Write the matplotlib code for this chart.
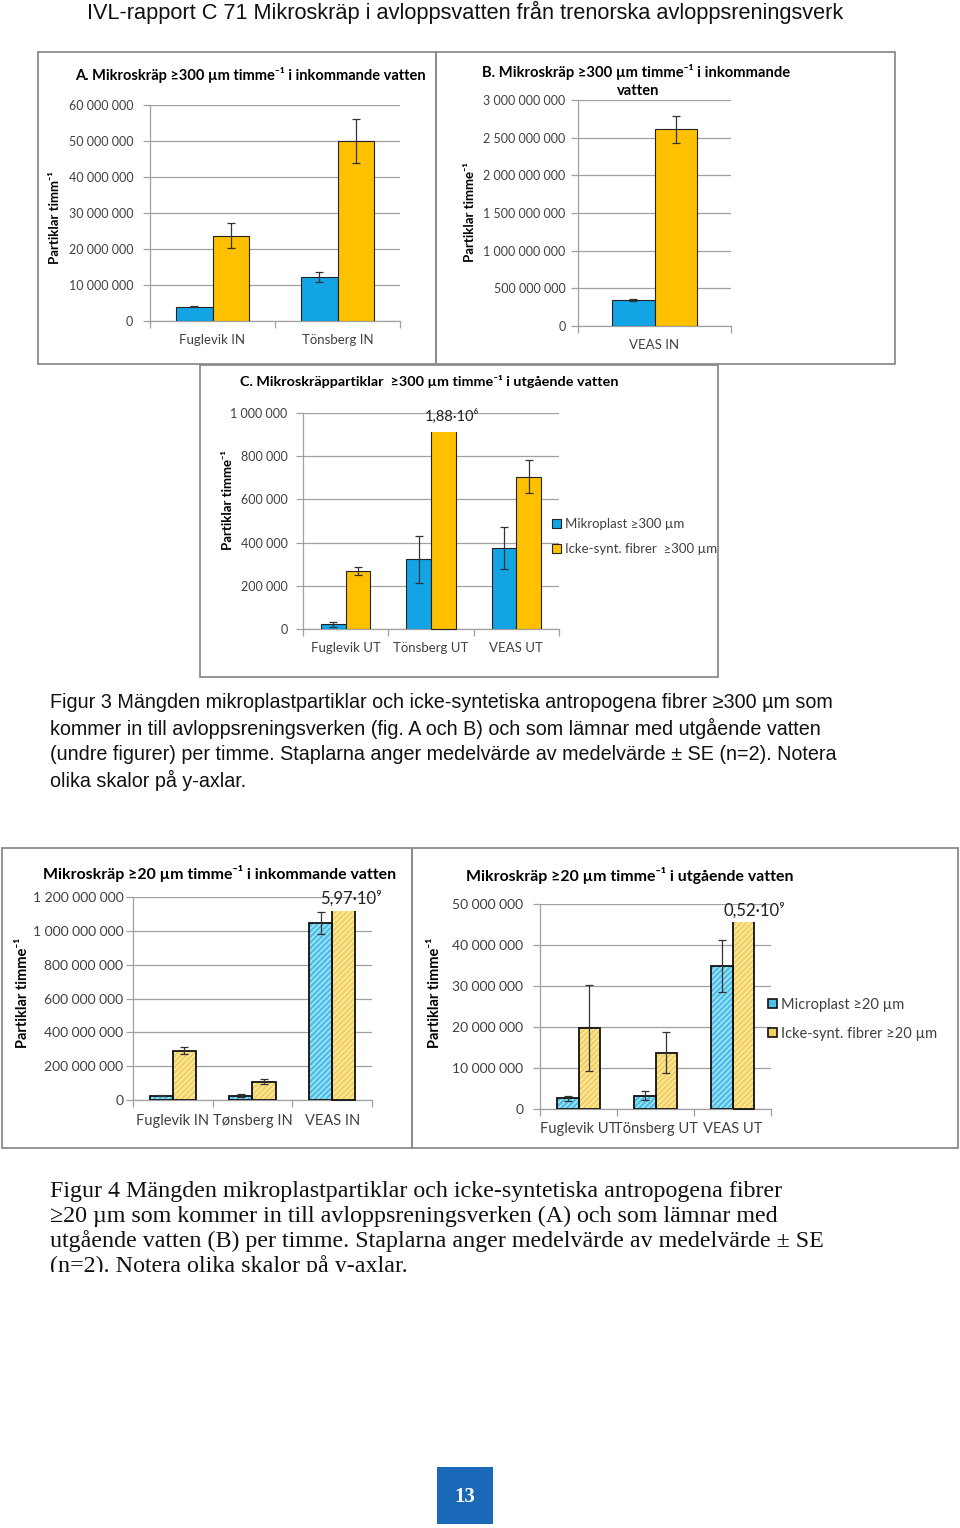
import matplotlib
matplotlib.use("Agg")
import matplotlib.pyplot as plt
import numpy as np
from matplotlib.patches import Rectangle

# ---------------- data ----------------
A_cats = ["Fuglevik IN", "Tönsberg IN"]
A_mp = [4.0e6, 12.3e6]
A_mp_se = [0.2e6, 1.4e6]
A_fib = [23.7e6, 50.0e6]
A_fib_se = [3.5e6, 6.2e6]
A_ticks = [0, 10e6, 20e6, 30e6, 40e6, 50e6, 60e6]

B_cats = ["VEAS IN"]
B_mp = [340e6]
B_mp_se = [12e6]
B_fib = [2.61e9]
B_fib_se = [0.18e9]
B_ticks = [0, 0.5e9, 1.0e9, 1.5e9, 2.0e9, 2.5e9, 3.0e9]

C_cats = ["Fuglevik UT", "Tönsberg UT", "VEAS UT"]
C_mp = [22e3, 322e3, 375e3]
C_mp_se = [11e3, 110e3, 95e3]
C_fib = [268e3, 1.88e6, 706e3]
C_fib_se = [20e3, np.nan, 76e3]
C_break = 912e3
C_ticks = [0, 200e3, 400e3, 600e3, 800e3, 1000e3]
C_legend = ["Mikroplast ≥300 µm", "Icke-synt. fibrer  ≥300 µm"]

D_cats = ["Fuglevik IN", "Tønsberg IN", "VEAS IN"]
D_mp = [25e6, 25e6, 1.045e9]
D_mp_se = [3e6, 8e6, 65e6]
D_fib = [292e6, 108e6, 5.97e9]
D_fib_se = [20e6, 15e6, np.nan]
D_break = 1.12e9
D_ticks = [0, 200e6, 400e6, 600e6, 800e6, 1000e6, 1200e6]

E_cats = ["Fuglevik UT", "Tönsberg UT", "VEAS UT"]
E_mp = [2.6e6, 3.2e6, 34.9e6]
E_mp_se = [0.6e6, 1.1e6, 6.4e6]
E_fib = [19.8e6, 13.7e6, 0.52e9]
E_fib_se = [10.5e6, 5.0e6, np.nan]
E_break = 45.5e6
E_ticks = [0, 10e6, 20e6, 30e6, 40e6, 50e6]
E_legend = ["Microplast ≥20 µm", "Icke-synt. fibrer ≥20 µm"]

# ---------------- setup ----------------
W, H = 960, 1528
fig = plt.figure(figsize=(W / 100, H / 100), dpi=100)
fig.patch.set_facecolor("white")

CF = ["Lato", "DejaVu Sans"]
SANS = ["Liberation Sans", "DejaVu Sans"]
SERIF = ["Liberation Serif", "DejaVu Serif"]
TICKC = "#404040"
GRID = "#a0a0a0"
BLUE3, YEL3 = "#13a4e6", "#ffc000"
BLUE4, BLUE4H = "#4cc0e8", "#b3e6f6"
YEL4, YEL4H = "#f3d160", "#fbecb3"


def fmt(v):
    return f"{v:,.0f}".replace(",", " ")


def px_ax(x0, y0, x1, y1):
    return fig.add_axes([x0 / W, 1 - y1 / H, (x1 - x0) / W, (y1 - y0) / H])


def ftext(x, y, s, **kw):
    return fig.text(x / W, 1 - y / H, s, **kw)


def frame(x0, y0, x1, y1):
    fig.patches.append(Rectangle((x0 / W, 1 - y1 / H), (x1 - x0) / W, (y1 - y0) / H,
                                 transform=fig.transFigure, fill=False,
                                 ec="#8c8c8c", lw=1.3))


def panel(box, cats, mp, mp_se, fib, fib_se, ticks, tfs, xpad, ypad, brk=None,
          width=0.29, hatched=False, xfs=None):
    ax = px_ax(*box)
    n = len(cats)
    x = np.arange(n)
    if hatched:
        b1 = ax.bar(x - width, mp, width, align="edge", color=BLUE4, edgecolor=BLUE4H,
                    hatch="//////", lw=0, zorder=3)
        ax.bar(x - width, mp, width, align="edge", fill=False, edgecolor="#111111",
               lw=1.3, zorder=4)
        b2 = ax.bar(x, fib, width, align="edge", color=YEL4, edgecolor=YEL4H,
                    hatch="//////", lw=0, zorder=3)
        b2o = ax.bar(x, fib, width, align="edge", fill=False, edgecolor="#111111",
                     lw=1.3, zorder=4)
        clip_sets = [b2, b2o]
    else:
        b1 = ax.bar(x - width, mp, width, align="edge", color=BLUE3, edgecolor="#222222",
                    lw=0.8, zorder=3)
        b2 = ax.bar(x, fib, width, align="edge", color=YEL3, edgecolor="#222222",
                    lw=0.8, zorder=3)
        clip_sets = [b2]
    if brk is not None:
        for bs in clip_sets:
            for p in bs.patches:
                if p.get_height() > brk:
                    cp = Rectangle((-1, -1e12), n + 2, brk + 1e12, transform=ax.transData)
                    p.set_clip_path(cp)
    for xs, vals, ses in ((x - width / 2, mp, mp_se), (x + width / 2, fib, fib_se)):
        vals = np.asarray(vals, float)
        ses = np.asarray(ses, float)
        ok = np.isfinite(ses)
        ax.errorbar(xs[ok], vals[ok], yerr=ses[ok], fmt="none", ecolor="#333333",
                    elinewidth=0.9, capsize=3, capthick=0.9, zorder=5)
    ax.set_xlim(-0.5, n - 0.5)
    ax.set_ylim(ticks[0], ticks[-1])
    ax.set_yticks(ticks)
    ax.set_yticklabels([fmt(t) for t in ticks], family=CF, fontsize=tfs, color=TICKC)
    ax.set_xticks(x)
    ax.set_xticklabels(cats, family=CF, fontsize=xfs or tfs, color=TICKC)
    ax.set_xticks(np.arange(n + 1) - 0.5, minor=True)
    ax.tick_params(axis="x", which="major", length=0, pad=xpad)
    ax.tick_params(axis="x", which="minor", length=5, color=GRID, width=0.9)
    ax.tick_params(axis="y", length=5, color=GRID, width=0.9, pad=ypad)
    ax.grid(axis="y", color=GRID, lw=0.9, zorder=0)
    ax.set_axisbelow(True)
    for s in ("top", "right"):
        ax.spines[s].set_visible(False)
    for s in ("left", "bottom"):
        ax.spines[s].set_color(GRID)
        ax.spines[s].set_linewidth(0.9)
    ax.patch.set_alpha(0)
    return ax, b1, b2


# ---------------- header ----------------
ftext(465, 12, "IVL-rapport C 71 Mikroskräp i avloppsvatten från trenorska avloppsreningsverk",
      family=SANS, fontsize=15.7, ha="center", va="center", color="#111111")

# ---------------- Figure 3 ----------------
frame(38, 52, 436, 364)
frame(436, 52, 895, 364)
frame(200, 365, 718, 677)

axA, _, _ = panel((150, 105, 400, 321), A_cats, A_mp, A_mp_se, A_fib, A_fib_se,
                  A_ticks, 9, 9.5, 7, xfs=9.5)
ftext(75, 75, "A. Mikroskräp ≥300 µm timme⁻¹ i inkommande vatten", family=CF,
      fontsize=10.5, fontweight="bold", ha="left", va="center")
ftext(55, 218, "Partiklar timm⁻¹", family=CF, fontsize=9.5, fontweight="bold",
      rotation=90, ha="center", va="center")

axB, _, _ = panel((578, 100, 731, 326), B_cats, B_mp, B_mp_se, B_fib, B_fib_se,
                  B_ticks, 9, 9.5, 4, width=0.28, xfs=9.5)
ftext(482, 72, "B. Mikroskräp ≥300 µm timme⁻¹ i inkommande", family=CF,
      fontsize=10.6, fontweight="bold", ha="left", va="center")
ftext(638, 91, "vatten", family=CF, fontsize=10.6, fontweight="bold",
      ha="center", va="center")
ftext(470, 212, "Partiklar timme⁻¹", family=CF, fontsize=9.5, fontweight="bold",
      rotation=90, ha="center", va="center")

axC, bc1, bc2 = panel((303, 413, 559, 629), C_cats, C_mp, C_mp_se, C_fib, C_fib_se,
                      C_ticks, 9, 9, 6, brk=C_break, xfs=9.5)
ftext(240, 382, "C. Mikroskräppartiklar  ≥300 µm timme⁻¹ i utgående vatten", family=CF,
      fontsize=10.4, fontweight="bold", ha="left", va="center")
ftext(228, 500, "Partiklar timme⁻¹", family=CF, fontsize=9.5, fontweight="bold",
      rotation=90, ha="center", va="center")
axC.annotate("1,88·10⁶", xy=(1 + 0.145, C_break), xytext=(6, 6), textcoords="offset points",
             family=CF, fontsize=10.5, ha="center", va="bottom", color="#222222")
axC.legend([bc1, bc2], C_legend, loc="upper left", bbox_to_anchor=(552 / W, 1 - 518 / H),
           bbox_transform=fig.transFigure, frameon=False, prop={"family": CF, "size": 9.5},
           handlelength=0.65, handleheight=0.65, handletextpad=0.3, labelspacing=1.0,
           borderpad=0, borderaxespad=0, labelcolor=TICKC)

# ---------------- caption 3 ----------------
cap3 = ["Figur 3 Mängden mikroplastpartiklar och icke-syntetiska antropogena fibrer ≥300 µm som",
        "kommer in till avloppsreningsverken (fig. A och B) och som lämnar med utgående vatten",
        "(undre figurer) per timme. Staplarna anger medelvärde av medelvärde ± SE (n=2). Notera",
        "olika skalor på y-axlar."]
for i, line in enumerate(cap3):
    ftext(50, 702 + 26 * i, line, family=SANS, fontsize=14.2, ha="left", va="center",
          color="#111111")

# ---------------- Figure 4 ----------------
frame(2, 848, 412, 1148)
frame(412, 848, 958, 1148)

axD, _, _ = panel((133, 897, 372, 1100), D_cats, D_mp, D_mp_se, D_fib, D_fib_se,
                  D_ticks, 10, 10, 2, brk=D_break, hatched=True, xfs=10.5)
ftext(43, 873, "Mikroskräp ≥20 µm timme⁻¹ i inkommande vatten", family=CF,
      fontsize=11.4, fontweight="bold", ha="left", va="center")
ftext(23, 993, "Partiklar timme⁻¹", family=CF, fontsize=10.5, fontweight="bold",
      rotation=90, ha="center", va="center")
axD.annotate("5,97·10⁹", xy=(2 + 0.145, D_break), xytext=(5, 3), textcoords="offset points",
             family=CF, fontsize=12, ha="center", va="bottom", color="#222222")

axE, be1, be2 = panel((540, 904, 771, 1109), E_cats, E_mp, E_mp_se, E_fib, E_fib_se,
                      E_ticks, 10, 9.5, 7, brk=E_break, hatched=True, width=0.28, xfs=10.5)
ftext(466, 876, "Mikroskräp ≥20 µm timme⁻¹ i utgående vatten", family=CF,
      fontsize=11.4, fontweight="bold", ha="left", va="center")
ftext(435, 993, "Partiklar timme⁻¹", family=CF, fontsize=10.5, fontweight="bold",
      rotation=90, ha="center", va="center")
axE.annotate("0,52·10⁹", xy=(2 + 0.14, E_break), xytext=(8, 3), textcoords="offset points",
             family=CF, fontsize=12, ha="center", va="bottom", color="#222222")
hE1 = Rectangle((0, 0), 1, 1, fc=BLUE4, ec="#111111", lw=1.2)
hE2 = Rectangle((0, 0), 1, 1, fc=YEL4, ec="#111111", lw=1.2)
axE.legend([hE1, hE2], E_legend, loc="upper left", bbox_to_anchor=(768 / W, 1 - 998 / H),
           bbox_transform=fig.transFigure, frameon=False, prop={"family": CF, "size": 10.5},
           handlelength=0.6, handleheight=0.6, handletextpad=0.3, labelspacing=1.0,
           borderpad=0, borderaxespad=0, labelcolor=TICKC)

# ---------------- caption 4 ----------------
cap4 = ["Figur 4 Mängden mikroplastpartiklar och icke-syntetiska antropogena fibrer",
        "≥20 µm som kommer in till avloppsreningsverken (A) och som lämnar med",
        "utgående vatten (B) per timme. Staplarna anger medelvärde av medelvärde ± SE",
        "(n=2). Notera olika skalor på y-axlar."]
for i, line in enumerate(cap4):
    ftext(50, 1191 + 25 * i, line, family=SERIF, fontsize=17.3, ha="left", va="center",
          color="#111111")
cover = Rectangle((0, 1 - 1300 / H), 1, (1300 - 1272) / H, transform=fig.transFigure,
                  fc="white", ec="none", zorder=20)
fig.patches.append(cover)

# ---------------- page number ----------------
fig.patches.append(Rectangle((437 / W, 1 - 1524 / H), 56 / W, 57 / H,
                             transform=fig.transFigure, fc="#1a68b8", ec="none"))
ftext(465, 1497, "13", family=SERIF, fontsize=15, fontweight="bold", color="white",
      ha="center", va="center")

fig.savefig("out.png", dpi=100, facecolor="white")
